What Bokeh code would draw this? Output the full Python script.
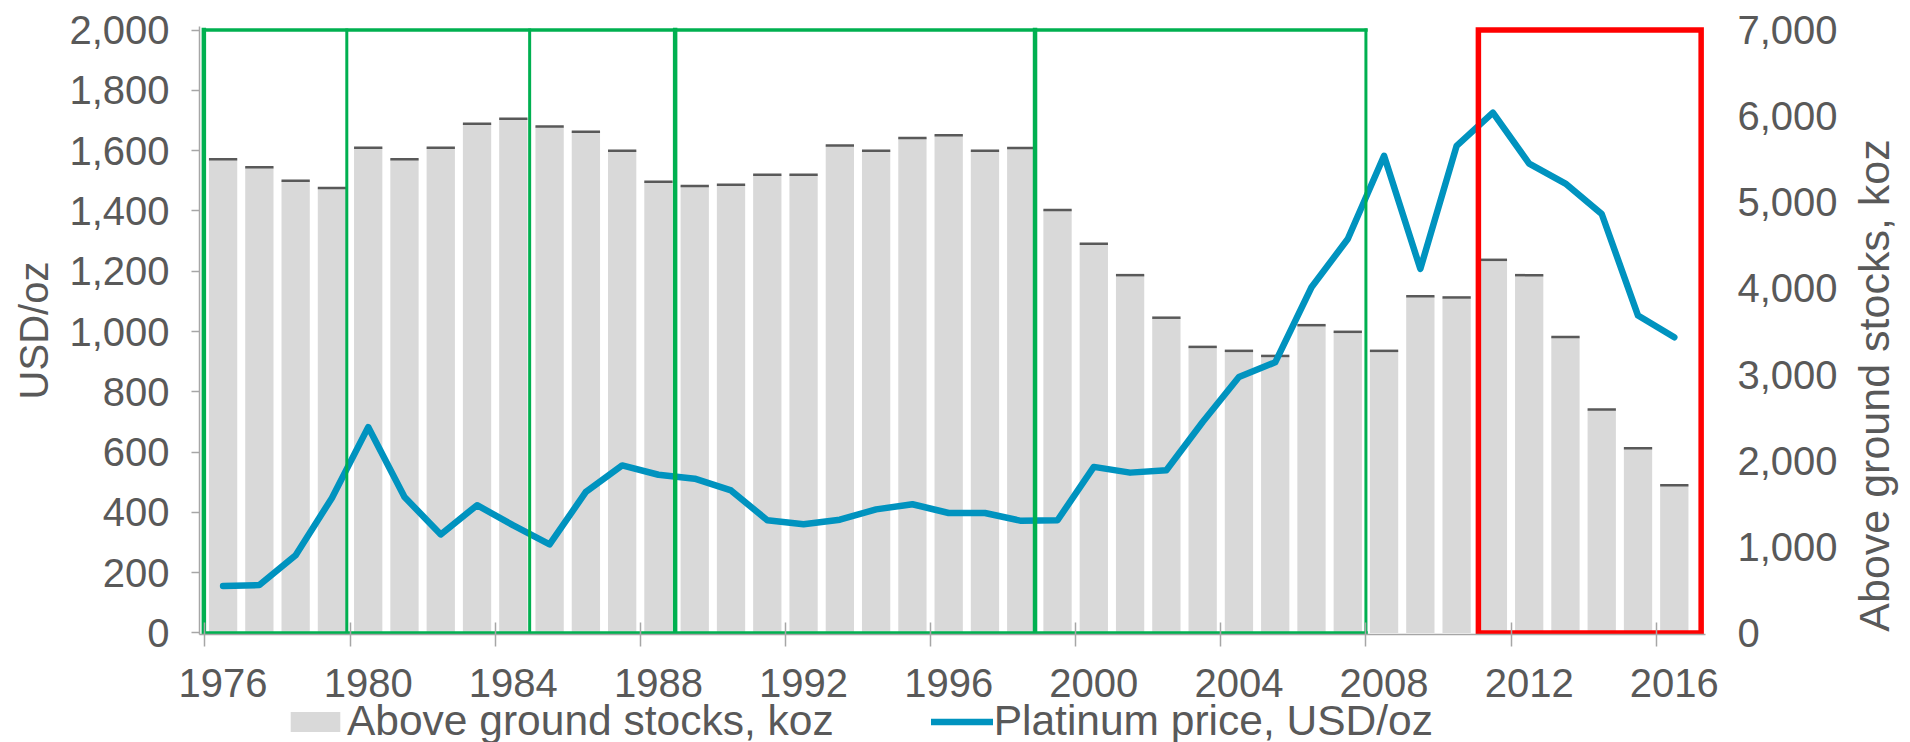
import numpy as np
from bokeh.plotting import figure
from bokeh.layouts import row, column
from bokeh.models import (Range1d, LinearAxis, FixedTicker, NumeralTickFormatter,
                          Legend, LegendItem, Label, ColumnDataSource)
from bokeh.embed import file_html
from bokeh.resources import INLINE

# ---------------- data ----------------
years = list(range(1976, 2017))
stocks_koz = [5502, 5408, 5250, 5166, 5635, 5502, 5635, 5912, 5971, 5880,
              5820, 5600, 5240, 5190, 5205, 5320, 5320, 5660, 5600, 5747,
              5779, 5600, 5632, 4911, 4519, 4155, 3661, 3322, 3276, 3217,
              3574, 3497, 3276, 3910, 3896, 4333, 4155, 3437, 2596, 2144, 1715]
price_usd = [156, 159, 258, 448, 683, 451, 327, 424, 357, 294,
             468, 556, 525, 512, 473, 374, 361, 376, 410, 427,
             398, 398, 372, 374, 551, 532, 540, 700, 849, 898,
             1147, 1307, 1583, 1208, 1616, 1726, 1557, 1491, 1390, 1053, 981]
label_years = [1976, 1980, 1984, 1988, 1992, 1996, 2000, 2004, 2008, 2012, 2016]
left_ticks = [0, 200, 400, 600, 800, 1000, 1200, 1400, 1600, 1800, 2000]
right_ticks = [0, 1000, 2000, 3000, 4000, 5000, 6000, 7000]
series_names = ["Above ground stocks, koz", "Platinum price, USD/oz"]
left_title = "USD/oz"
right_title = "Above ground stocks, koz"

# highlighted periods (year boundaries)
green_bounds = [1975.47, 1979.41, 1984.45, 1988.46, 1998.38, 2007.5]
red_period = [2010.6, 2016.74]

# ---------------- styles ----------------
FONT = "Liberation Sans"
TXT = "#595959"
AX = "#A6A6A6"
BAR = "#D9D9D9"
LINE = "#0093BF"
GREEN = "#00B050"
RED = "#FF0000"
green_widths = [4.5, 3, 3, 4.5, 4.5, 3]

MAIN_W, MAIN_H = 1850, 703
TITLE_W = 1910 - MAIN_W
LEG_H = 742 - MAIN_H

p = figure(width=MAIN_W, height=MAIN_H, output_backend="svg", toolbar_location=None,
           x_range=Range1d(1975.35, 2016.86), y_range=Range1d(-5, 2012),
           min_border_left=199, min_border_right=MAIN_W - 1705, min_border_top=26,
           min_border_bottom=MAIN_H - 634)
p.outline_line_color = None
p.xgrid.visible = False
p.ygrid.visible = False

p.extra_y_ranges = {"stocks": Range1d(-5 * 3.5, 2012 * 3.5)}

yrs = np.array(years, dtype=float)
stk = np.array(stocks_koz, dtype=float)
bw = 0.78
p.vbar(x=yrs, top=stk, bottom=0, width=bw, y_range_name="stocks",
       fill_color=BAR, line_color=None)
p.segment(x0=yrs - bw / 2, x1=yrs + bw / 2, y0=stk, y1=stk, y_range_name="stocks",
          line_color=TXT, line_width=2.5)

p.line(yrs, price_usd, line_color=LINE, line_width=6.5,
       line_join="round", line_cap="round")

# green boxes
gsrc = ColumnDataSource(dict(
    x0=green_bounds, x1=green_bounds,
    y0=[0] * len(green_bounds), y1=[2000] * len(green_bounds),
    w=green_widths))
p.segment(x0="x0", x1="x1", y0="y0", y1="y1", line_width="w", source=gsrc,
          line_color=GREEN, line_cap="square")
p.segment(x0=[green_bounds[0], green_bounds[0]], x1=[green_bounds[-1], green_bounds[-1]],
          y0=[2000, 0], y1=[2000, 0], line_color=GREEN, line_width=3.5, line_cap="square")
# red box
p.quad(left=[red_period[0]], right=[red_period[1]], bottom=[0], top=[2000],
       fill_alpha=0, line_color=RED, line_width=5.5, line_join="miter")

# ---------------- axes ----------------
xa = p.xaxis[0]
xa.ticker = FixedTicker(ticks=label_years, minor_ticks=[y - 0.5 for y in label_years])
xa.major_tick_line_color = None
xa.major_tick_in = 0
xa.major_tick_out = 0
xa.minor_tick_in = 12
xa.minor_tick_out = 12
xa.minor_tick_line_color = AX
xa.minor_tick_line_width = 1.5
xa.axis_line_color = AX
xa.axis_line_width = 1.5
xa.major_label_standoff = 22
xa.major_label_text_font = FONT
xa.major_label_text_font_size = "40px"
xa.major_label_text_color = TXT

ya = p.yaxis[0]
ya.ticker = FixedTicker(ticks=left_ticks)
ya.formatter = NumeralTickFormatter(format="0,0")
ya.major_tick_in = 0
ya.major_tick_out = 8
ya.major_tick_line_color = AX
ya.major_tick_line_width = 1.5
ya.axis_line_color = AX
ya.axis_line_width = 1.5
ya.major_label_standoff = 22
ya.major_label_text_font = FONT
ya.major_label_text_font_size = "40px"
ya.major_label_text_color = TXT
ya.axis_label = left_title
ya.axis_label_text_font = FONT
ya.axis_label_text_font_size = "40px"
ya.axis_label_text_font_style = "normal"
ya.axis_label_text_color = TXT
ya.axis_label_standoff = 10

ra = LinearAxis(y_range_name="stocks", ticker=FixedTicker(ticks=right_ticks),
                formatter=NumeralTickFormatter(format="0,0"))
ra.axis_line_color = None
ra.major_tick_line_color = None
ra.major_tick_in = 0
ra.major_tick_out = 0
ra.major_label_standoff = 32
ra.major_label_text_font = FONT
ra.major_label_text_font_size = "40px"
ra.major_label_text_color = TXT
p.add_layout(ra, "right")

# ---------------- legend strip ----------------
lg = figure(width=MAIN_W, height=LEG_H, output_backend="svg", toolbar_location=None,
            x_range=Range1d(0, 1), y_range=Range1d(0, 1),
            x_axis_type=None, y_axis_type=None,
            min_border_left=0, min_border_right=0, min_border_top=0, min_border_bottom=0)
lg.outline_line_color = None
lg.xgrid.visible = False
lg.ygrid.visible = False
# legend sample glyphs (kept outside the visible range)
r_bar = lg.vbar(x=[-5], top=[-5], bottom=-6, width=0.5, fill_color=BAR, line_color=None)
r_line = lg.line([-5, -4], [-5, -5], line_color=LINE, line_width=6.5, line_cap="round")
legend = Legend(items=[LegendItem(label=series_names[0], renderers=[r_bar]),
                       LegendItem(label=series_names[1], renderers=[r_line])],
                orientation="horizontal", location=(85, -3),
                glyph_width=62, glyph_height=25, label_standoff=1, spacing=97,
                padding=0, margin=0, border_line_color=None,
                background_fill_alpha=0,
                label_text_font=FONT, label_text_font_size="42.5px",
                label_text_color=TXT)
lg.add_layout(legend)

# ---------------- right title strip ----------------
tf = figure(width=TITLE_W, height=742, output_backend="svg", toolbar_location=None,
            x_range=Range1d(0, 1), y_range=Range1d(0, 1),
            x_axis_type=None, y_axis_type=None,
            min_border_left=0, min_border_right=0, min_border_top=0, min_border_bottom=0)
tf.outline_line_color = None
tf.xgrid.visible = False
tf.ygrid.visible = False
tf.add_layout(Label(x=23, y=357, x_units="screen", y_units="screen",
                    text=right_title, angle=np.pi / 2,
                    text_align="center", text_baseline="middle",
                    text_font=FONT, text_font_size="43px", text_color=TXT))

layout = row(column(p, lg), tf)
open("out.html", "w").write(file_html(layout, INLINE))
